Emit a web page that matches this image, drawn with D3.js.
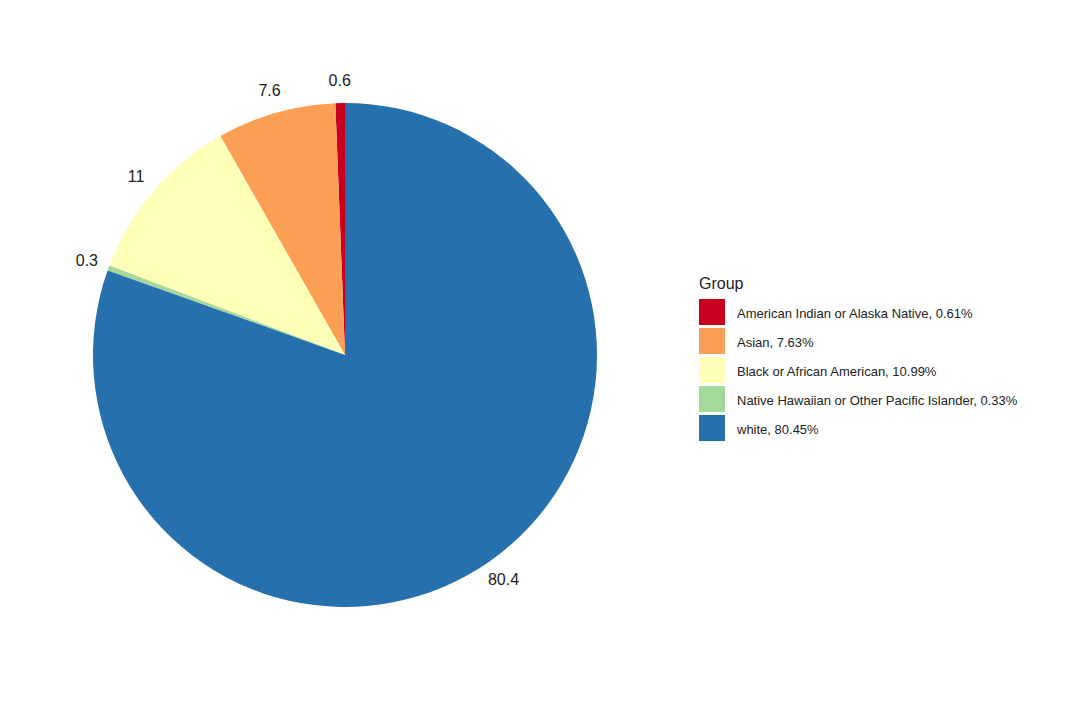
<!DOCTYPE html>
<html>
<head>
<meta charset="utf-8">
<script src="https://cdn.jsdelivr.net/npm/d3@7"></script>
<style>
  body { margin: 0; background: #fff; }
  text { font-family: "Liberation Sans", Arial, sans-serif; }
</style>
</head>
<body>
<svg id="chart" width="1065" height="713"></svg>
<script>
// data
const groups = ['American Indian or Alaska Native', 'Asian', 'Black or African American',
  'Native Hawaiian or Other Pacific Islander', 'white'];
const shares = [0.61, 7.63, 10.99, 0.33, 80.45];
const sliceLabels = ['0.6', '7.6', '11', '0.3', '80.4'];
const colors = ['#ca0020', '#fb9f55', '#ffffb8', '#a3d99a', '#2670ad'];

const svg = d3.select('#chart');
const cx = 345, cy = 355, radius = 252;
const data = groups.map((g, i) => ({ group: g, value: shares[i], label: sliceLabels[i] }));

const color = d3.scaleOrdinal().domain(groups).range(colors);

// counterclockwise from 12 o'clock
const pie = d3.pie().value(d => d.value).sort(null).startAngle(0).endAngle(-2 * Math.PI);
const arc = d3.arc().innerRadius(0).outerRadius(radius);
const labelArc = d3.arc().innerRadius(275).outerRadius(275);

const g = svg.append('g').attr('transform', `translate(${cx},${cy})`);

g.selectAll('path')
  .data(pie(data))
  .enter().append('path')
  .attr('d', arc)
  .attr('fill', d => color(d.data.group));

g.selectAll('text.lbl')
  .data(pie(data))
  .enter().append('text')
  .attr('class', 'lbl')
  .attr('transform', d => `translate(${labelArc.centroid(d)})`)
  .attr('text-anchor', 'middle')
  .attr('dominant-baseline', 'central')
  .attr('font-size', 16)
  .attr('fill', '#222')
  .text(d => d.data.label);

// legend
const legend = svg.append('g').attr('transform', 'translate(699,283)');
legend.append('text')
  .attr('x', 0).attr('y', 0)
  .attr('dominant-baseline', 'central')
  .attr('font-size', 16)
  .attr('fill', '#222')
  .text('Group');

const item = legend.selectAll('g.item')
  .data(data)
  .enter().append('g')
  .attr('class', 'item')
  .attr('transform', (d, i) => `translate(0,${16 + i * 29})`);

item.append('rect')
  .attr('width', 26).attr('height', 26)
  .attr('fill', d => color(d.group));

item.append('text')
  .attr('x', 38).attr('y', 14)
  .attr('dominant-baseline', 'central')
  .attr('font-size', 13)
  .attr('fill', '#222')
  .text(d => `${d.group}, ${d.value.toFixed(2)}%`);
</script>
</body>
</html>
